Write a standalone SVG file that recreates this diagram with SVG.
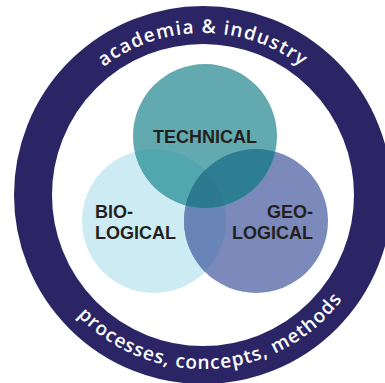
<svg xmlns="http://www.w3.org/2000/svg" width="385" height="383" viewBox="0 0 385 383">
  <style>
    .ring-text { font-family: "Open Sans", "DejaVu Sans", sans-serif; font-weight: 600; font-size: 19px; fill: #ffffff; }
    .label { font-family: "Liberation Sans", Arial, sans-serif; font-weight: 700; font-size: 18px; fill: #231f20; }
  </style>
  <defs>
    <clipPath id="clipBio"><circle cx="154" cy="221" r="72"/></clipPath>
    <clipPath id="clipGeo"><circle cx="256" cy="221" r="72"/></clipPath>
    <path id="topArc" d="M 41 195 A 162 162 0 0 1 365 195"/>
    <path id="botArc" d="M 29 195 A 174 174 0 0 0 377 195"/>
  </defs>
  <rect width="385" height="383" fill="#ffffff"/>
  <g id="ring">
    <circle cx="203" cy="195" r="170" fill="none" stroke="#2b2566" stroke-width="38"/>
    <text class="ring-text" letter-spacing="1.3"><textPath href="#topArc" startOffset="50%" text-anchor="middle">academia &amp; industry</textPath></text>
    <text class="ring-text" letter-spacing="1"><textPath href="#botArc" startOffset="52%" text-anchor="middle">processes, concepts, methods</textPath></text>
  </g>
  <g id="biological">
    <circle cx="154" cy="221" r="72" fill="#cdebf3"/>
  </g>
  <g id="geological">
    <circle cx="256" cy="221" r="72" fill="#7b89bb"/>
    <circle cx="256" cy="221" r="72" fill="#6985b8" clip-path="url(#clipBio)"/>
  </g>
  <g id="technical">
    <circle cx="205" cy="136" r="72" fill="#63aab0"/>
    <circle cx="205" cy="136" r="72" fill="#52a6ae" clip-path="url(#clipBio)"/>
    <circle cx="205" cy="136" r="72" fill="#2e7e93" clip-path="url(#clipGeo)"/>
    <g clip-path="url(#clipBio)">
      <circle cx="205" cy="136" r="72" fill="#2c7a8f" clip-path="url(#clipGeo)"/>
    </g>
  </g>
  <g id="labels">
    <text class="label" x="205" y="142.5" text-anchor="middle">TECHNICAL</text>
    <text class="label"><tspan x="95" y="217.5">BIO-</tspan><tspan x="95" y="238.5">LOGICAL</tspan></text>
    <text class="label" text-anchor="end"><tspan x="313" y="217.5">GEO-</tspan><tspan x="313" y="238.5">LOGICAL</tspan></text>
  </g>
</svg>
